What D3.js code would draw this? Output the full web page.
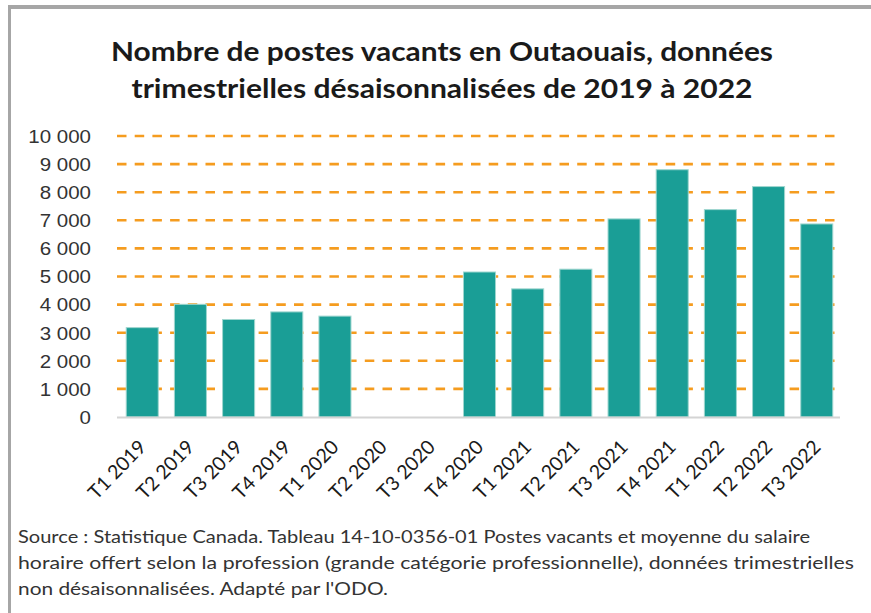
<!DOCTYPE html>
<html>
<head>
<meta charset="utf-8">
<script src="https://cdn.jsdelivr.net/npm/d3@7"></script>
<style>
  body { margin: 0; background: #fff; }
  svg { display: block; }
</style>
</head>
<body>
<div id="chart"></div>
<script>
// Quarterly vacancy counts
const quarters = ['T1 2019', 'T2 2019', 'T3 2019', 'T4 2019', 'T1 2020', 'T2 2020', 'T3 2020',
  'T4 2020', 'T1 2021', 'T2 2021', 'T3 2021', 'T4 2021', 'T1 2022', 'T2 2022', 'T3 2022'];
const vacancies = [3180, 4010, 3470, 3740, 3590, null, null,
  5160, 4560, 5260, 7050, 8800, 7380, 8200, 6870];
const yTicks = [0, 1000, 2000, 3000, 4000, 5000, 6000, 7000, 8000, 9000, 10000];

const titleLines = ['Nombre de postes vacants en Outaouais, données',
  'trimestrielles désaisonnalisées de 2019 à 2022'];
const sourceLines = [
  'Source : Statistique Canada. Tableau 14-10-0356-01  Postes vacants et moyenne du salaire',
  'horaire offert selon la profession (grande catégorie professionnelle), données trimestrielles',
  'non désaisonnalisées. Adapté par l\'ODO.'
];

(function() {
  const width = 871, height = 613;
  const plot = { left: 119, right: 840, top: 136, bottom: 417 };

  // the source picture is a bit stretched sideways; these widths copy it
  const titleWidths = [662, 621];
  const sourceWidths = [792, 836, 370];

  const svg = d3.select('#chart').append('svg')
    .attr('width', width)
    .attr('height', height);

  // frame (top + left grey edges like the original screenshot)
  svg.append('rect')
    .attr('x', 8).attr('y', 5)
    .attr('width', width - 8).attr('height', 4)
    .attr('fill', '#a6a6a6');
  svg.append('rect')
    .attr('x', 8).attr('y', 5)
    .attr('width', 3).attr('height', height - 5)
    .attr('fill', '#a6a6a6');

  // title
  svg.append('g').selectAll('text')
    .data(titleLines)
    .join('text')
    .attr('x', 442)
    .attr('y', (d, i) => 61 + i * 37)
    .attr('text-anchor', 'middle')
    .attr('font-family', 'Lato, sans-serif')
    .attr('font-weight', 'bold')
    .attr('font-size', 27)
    .attr('fill', '#1a1a1a')
    .attr('textLength', (d, i) => titleWidths[i])
    .attr('lengthAdjust', 'spacingAndGlyphs')
    .text(d => d);

  // scales
  const x = d3.scaleBand()
    .domain(quarters)
    .range([plot.left, plot.right])
    .paddingInner(0.335)
    .paddingOuter(0.15);

  const y = d3.scaleLinear()
    .domain([0, 10000])
    .range([plot.bottom, plot.top]);

  const fmt = d3.formatLocale({ decimal: ',', thousands: '\u00a0', grouping: [3], currency: ['', ''] }).format(',d');

  // dashed orange gridlines
  svg.append('g').selectAll('line')
    .data(yTicks.filter(t => t > 0))
    .join('line')
    .attr('x1', plot.left - 2)
    .attr('x2', plot.right - 4)
    .attr('y1', d => y(d))
    .attr('y2', d => y(d))
    .attr('stroke', '#f59c1f')
    .attr('stroke-width', 2.6)
    .attr('stroke-dasharray', '9.5,8.2');

  // y axis labels
  const yAxis = d3.axisLeft(y).tickValues(yTicks).tickFormat(fmt).tickSize(0).tickPadding(0);
  const yg = svg.append('g')
    .attr('transform', `translate(${plot.left - 28},0)`)
    .call(yAxis);
  yg.select('.domain').remove();
  yg.selectAll('text')
    .attr('font-family', '"Liberation Sans", Arial, sans-serif')
    .attr('font-size', 18)
    .attr('fill', '#333')
    .attr('dy', '0.35em')
    .attr('transform', 'scale(1.14,1)');

  // bars
  svg.append('g').selectAll('rect')
    .data(quarters.map((q, i) => ({ q, v: vacancies[i] })).filter(d => d.v != null))
    .join('rect')
    .attr('x', d => x(d.q))
    .attr('y', d => y(d.v))
    .attr('width', x.bandwidth())
    .attr('height', d => y(0) - y(d.v))
    .attr('fill', '#1a9e96')
    .attr('stroke', '#9fd6cf')
    .attr('stroke-width', 1);

  // baseline
  svg.append('line')
    .attr('x1', plot.left - 2).attr('x2', plot.right)
    .attr('y1', y(0) + 0.5).attr('y2', y(0) + 0.5)
    .attr('stroke', '#d4d4d4')
    .attr('stroke-width', 2);

  // x axis labels, rotated
  const xAxis = d3.axisBottom(x).tickSize(0).tickPadding(0);
  const xg = svg.append('g')
    .attr('transform', `translate(0,${plot.bottom})`)
    .call(xAxis);
  xg.select('.domain').remove();
  xg.selectAll('text')
    .attr('font-family', 'Lato, sans-serif')
    .attr('font-size', 19.5)
    .attr('fill', '#1a1a1a')
    .attr('text-anchor', 'end')
    .attr('dy', null)
    .attr('y', 0)
    .attr('transform', 'translate(5,31) rotate(-46)');

  // source note
  svg.append('g').selectAll('text')
    .data(sourceLines)
    .join('text')
    .attr('x', 18)
    .attr('y', (d, i) => 543 + i * 26)
    .attr('font-family', 'Lato, sans-serif')
    .attr('font-size', 18)
    .attr('fill', '#333')
    .attr('textLength', (d, i) => sourceWidths[i])
    .attr('lengthAdjust', 'spacingAndGlyphs')
    .text(d => d);
})();
</script>
</body>
</html>
